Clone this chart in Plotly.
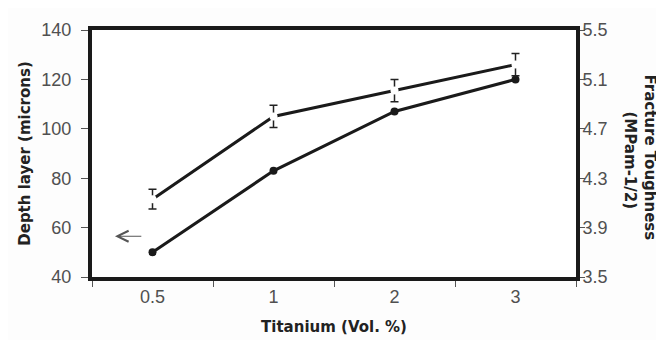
import plotly.graph_objects as go

categories = ["0.5", "1", "2", "3"]
depth_layer = [50, 83, 107, 120]
toughness = [4.13, 4.80, 5.01, 5.22]
toughness_err = [0.08, 0.09, 0.09, 0.09]
left_ticks = [40, 60, 80, 100, 120, 140]
right_ticks = [3.5, 3.9, 4.3, 4.7, 5.1, 5.5]

tick_font = dict(family="Liberation Sans, Arial, sans-serif", size=18, color="#505050")
title_font = dict(family="DejaVu Sans, sans-serif", size=15, color="#222222")

fig = go.Figure()
fig.add_trace(go.Scatter(
    x=categories, y=depth_layer, mode="lines+markers",
    line=dict(color="#1a1a1a", width=3),
    marker=dict(color="#1a1a1a", size=8, symbol="circle"),
    showlegend=False, yaxis="y"))
fig.add_trace(go.Scatter(
    x=categories, y=toughness, mode="lines+markers",
    line=dict(color="#1a1a1a", width=3),
    marker=dict(color="white", size=8, symbol="circle", line=dict(width=0)),
    error_y=dict(type="data", array=toughness_err, color="#222222", thickness=1.5, width=4),
    showlegend=False, yaxis="y2"))

fig.update_layout(
    width=664, height=340,
    margin=dict(l=84, r=96, t=22, b=71),
    paper_bgcolor="#fdfdfd", plot_bgcolor="white",
    xaxis=dict(type="category", categoryorder="array", categoryarray=categories,
               showline=True, linewidth=4, linecolor="#1a1a1a", mirror=True,
               ticks="outside", tickson="boundaries", ticklen=6, tickcolor="#555555",
               showgrid=False, tickfont=tick_font, range=[-0.5, 3.5],
               title=dict(text="<b>Titanium (Vol. %)</b>", font=title_font, standoff=17)),
    yaxis=dict(range=[40, 140], tickvals=left_ticks, showline=True, linewidth=4,
               linecolor="#1a1a1a", ticks="outside", ticklen=7, tickcolor="#555555",
               ticklabelstandoff=6,
               showgrid=False, zeroline=False, tickfont=tick_font,
               title=dict(text="<b>Depth layer (microns)</b>", font=title_font, standoff=8)),
    yaxis2=dict(range=[3.5, 5.5], tickvals=right_ticks, ticktext=[f"{v:.1f}" for v in right_ticks],
                overlaying="y", side="right", showline=True, linewidth=4, linecolor="#1a1a1a",
                ticks="outside", ticklen=5, tickcolor="#555555", showgrid=False, zeroline=False,
                ticklabelstandoff=-6, tickfont=tick_font),
)

fig.add_annotation(
    x=1.0, xref="paper", xanchor="center", xshift=74, y=0.5, yref="paper", yshift=-4,
    text="<b>Fracture Toughness</b>", textangle=90, showarrow=False, font=title_font)
fig.add_annotation(
    x=1.0, xref="paper", xanchor="center", xshift=54, y=0.5, yref="paper", yshift=-7,
    text="<b>(MPam-1/2)</b>", textangle=90, showarrow=False, font=title_font)

fig.add_annotation(
    x=-0.31, y=56.5, ax=-0.08, ay=56.5, xref="x", yref="y", axref="x", ayref="y",
    text="", showarrow=True, arrowhead=5, arrowsize=2.2, arrowwidth=1, arrowcolor="#555555")

fig.write_html("out.html")
